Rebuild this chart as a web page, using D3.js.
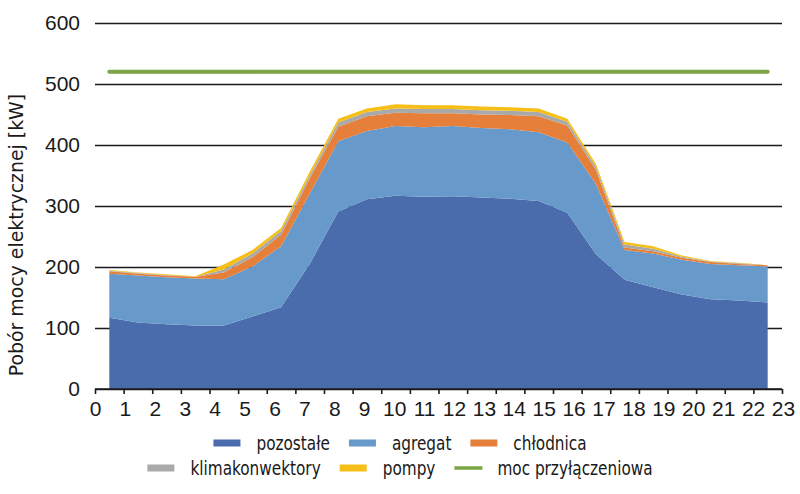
<!DOCTYPE html>
<html>
<head>
<meta charset="utf-8">
<script src="https://cdn.jsdelivr.net/npm/d3@7"></script>
<style>
  body { margin: 0; background: #fff; }
  svg { display: block; font-family: "DejaVu Sans Condensed", "DejaVu Sans", sans-serif; font-stretch: condensed; }
</style>
</head>
<body>
<svg id="chart" width="800" height="494"></svg>
<script>
// hours of the day (one point per hour, drawn in the middle of each hour slot)
const hours = d3.range(0, 24);
const hourLabels = d3.range(0, 24);
const yTicks = [0, 100, 200, 300, 400, 500, 600];

const pozostale = [117, 109, 106, 104, 104, 119, 134, 205, 291, 311, 317, 315, 316, 314, 312, 308, 289, 221, 179, 167, 155, 147, 145, 142];
const agregat = [72, 77, 77, 77, 76, 82, 100, 115, 115, 112, 114, 114, 115, 114, 114, 113, 115, 115, 49, 55, 57, 58, 58, 59];
const chlodnica = [4, 3, 3, 3, 11, 15, 19, 25, 24, 24, 22, 23, 21, 22, 23, 26, 28, 23, 4, 4, 3, 3, 2, 2];
const klimakonwektory = [1, 1, 1, 0, 5, 6, 6, 5, 7, 7, 7, 7, 7, 7, 7, 7, 6, 5, 5, 4, 2, 1, 1, 0];
const pompy = [1, 1, 1, 1, 8, 6, 5, 6, 6, 6, 7, 6, 6, 6, 6, 6, 5, 5, 4, 4, 2, 1, 1, 0];
const mocPrzylaczeniowa = [520, 520, 520, 520, 520, 520, 520, 520, 520, 520, 520, 520, 520, 520, 520, 520, 520, 520, 520, 520, 520, 520, 520, 520];

const keys = ['pozostałe', 'agregat', 'chłodnica', 'klimakonwektory', 'pompy'];
const series = [pozostale, agregat, chlodnica, klimakonwektory, pompy];
const colors = {
  'pozostałe': '#4a6cad',
  'agregat': '#6799cb',
  'chłodnica': '#e67f3a',
  'klimakonwektory': '#a9a9a9',
  'pompy': '#f5bf17',
  'moc przyłączeniowa': '#7aa446'
};

const rows = hours.map((h, i) => {
  const r = { hour: h };
  keys.forEach((k, j) => { r[k] = series[j][i]; });
  r.moc = mocPrzylaczeniowa[i];
  return r;
});

const svg = d3.select('#chart');
const ink = '#1a1a1a';
const squeeze = 0.85; // the original uses a condensed face

const x = d3.scaleLinear().domain([0, 24]).range([95, 782]);
const xLab = d3.scaleLinear().domain([0, 23]).range([95, 783]);
const y = d3.scaleLinear().domain([0, 600]).range([389, 23]);

// grid + y labels
const yAxis = svg.append('g')
  .attr('transform', 'translate(95,0)')
  .call(d3.axisLeft(y).tickValues(yTicks).tickSize(-687).tickPadding(15));
yAxis.select('.domain').remove();
yAxis.selectAll('line').attr('stroke', ink).attr('stroke-width', 1.6);
yAxis.selectAll('text').attr('font-size', 21).attr('fill', ink);

// stacked areas
const stacked = d3.stack().keys(keys)(rows);
const area = d3.area()
  .x(d => x(d.data.hour + 0.5))
  .y0(d => y(d[0]))
  .y1(d => y(d[1]));

svg.append('g')
  .selectAll('path')
  .data(stacked)
  .enter()
  .append('path')
  .attr('d', area)
  .attr('fill', d => colors[d.key]);

// connection power line
const line = d3.line()
  .x(d => x(d.hour + 0.5))
  .y(d => y(d.moc));

svg.append('path')
  .datum(rows)
  .attr('d', line)
  .attr('fill', 'none')
  .attr('stroke', colors['moc przyłączeniowa'])
  .attr('stroke-width', 4)
  .attr('stroke-linecap', 'round');

// x axis: ticks at hour boundaries, labels spread separately
const xAxis = svg.append('g')
  .attr('transform', 'translate(0,389)')
  .call(d3.axisBottom(x).tickValues(d3.range(0, 25)).tickSize(5).tickFormat(''));
xAxis.select('.domain').attr('stroke', ink).attr('stroke-width', 1.6).attr('d', 'M95,0H782');
xAxis.selectAll('line').attr('stroke', ink).attr('stroke-width', 1.6);

const xLabels = svg.append('g')
  .attr('transform', 'translate(0,389)')
  .call(d3.axisBottom(xLab).tickValues(hourLabels).tickSize(0).tickPadding(12));
xLabels.select('.domain').remove();
xLabels.selectAll('text').attr('font-size', 21).attr('fill', ink);

// y title
svg.append('text')
  .attr('transform', 'translate(23,235) rotate(-90) scale(1.05,1)')
  .attr('text-anchor', 'middle')
  .attr('font-size', 20)
  .attr('fill', ink)
  .text('Pobór mocy elektrycznej [kW]');

// legend
const legendRows = [
  ['pozostałe', 'agregat', 'chłodnica'],
  ['klimakonwektory', 'pompy', 'moc przyłączeniowa']
];
const legendY = [443, 468];

legendRows.forEach((names, r) => {
  const g = svg.append('g');
  let cx = 0;
  names.forEach(name => {
    const item = g.append('g').attr('transform', `translate(${cx},0)`);
    if (name === 'moc przyłączeniowa') {
      item.append('line')
        .attr('x1', 0).attr('x2', 28)
        .attr('y1', 0).attr('y2', 0)
        .attr('stroke', colors[name]).attr('stroke-width', 3.5);
    } else {
      item.append('rect')
        .attr('x', 0).attr('y', -3.5)
        .attr('width', 27).attr('height', 7)
        .attr('fill', colors[name]);
    }
    const t = item.append('text')
      .attr('transform', `translate(43,0) scale(${squeeze},1)`)
      .attr('dy', '0.35em')
      .attr('font-size', 20)
      .attr('fill', ink)
      .text(name);
    cx += 43 + t.node().getComputedTextLength() * squeeze + 19;
  });
  const w = cx - 19;
  g.attr('transform', `translate(${400 - w / 2},${legendY[r]})`);
});
</script>
</body>
</html>
